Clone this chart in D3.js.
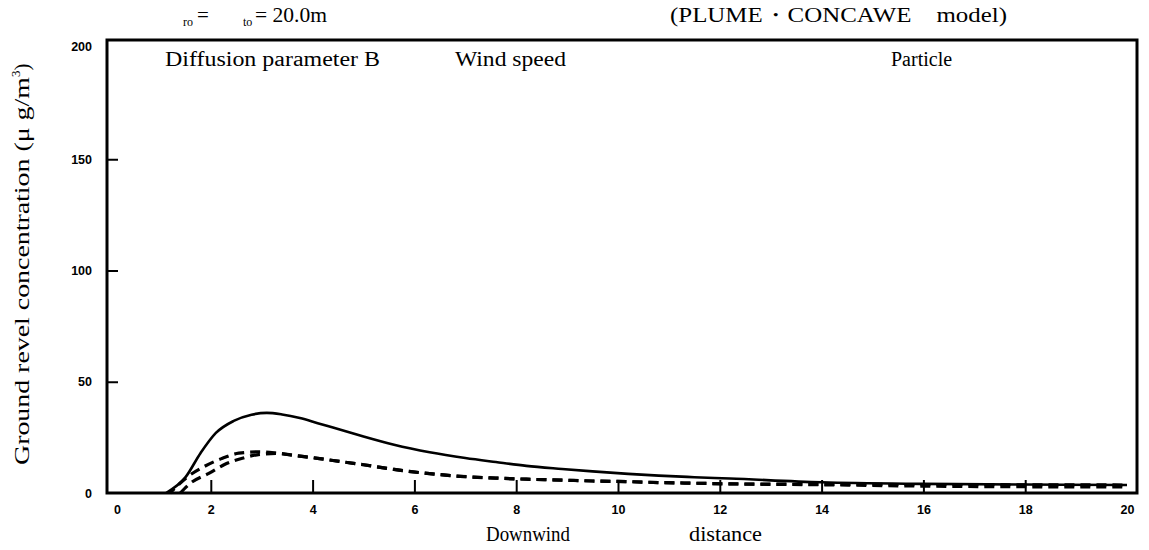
<!DOCTYPE html>
<html><head><meta charset="utf-8">
<script src="https://cdn.jsdelivr.net/npm/d3@7"></script>
<style>
html,body{margin:0;padding:0;background:#fff;}
svg{display:block;}
.serif{font-family:"Liberation Serif","Times New Roman",serif;fill:#000;}
.tick text{font-family:"Liberation Sans",Arial,sans-serif;font-weight:bold;font-size:12.5px;fill:#000;}
</style></head>
<body>
<svg id="chart" width="1149" height="550"></svg>
<script>
// ---- data ----
const xTicks = [0, 2, 4, 6, 8, 10, 12, 14, 16, 18, 20];
const yTicks = [0, 50, 100, 150, 200];

const solidX = [1.12, 1.5, 1.8, 2.1, 2.45, 2.8, 3.1, 3.4, 3.75, 4.1, 4.4, 4.7, 5.0, 5.6, 6.3, 7.0, 7.6, 8.2, 8.9, 9.5, 10.2, 10.8, 11.5, 12.2, 14, 16, 18, 20];
const solidY = [0, 7.0, 18.0, 27.0, 32.4, 35.2, 36.0, 35.3, 33.7, 31.4, 29.4, 27.4, 25.4, 21.7, 18.3, 15.7, 13.9, 12.2, 10.8, 9.7, 8.6, 7.8, 7.1, 6.5, 4.8, 4.1, 3.8, 3.6];

const dashAX = [1.2, 1.55, 1.87, 2.23, 2.55, 2.95, 3.3, 3.7, 4.1, 4.4, 5.0, 5.6, 6.3, 6.9, 7.6, 8.2, 8.9, 9.5, 10.2, 10.8, 11.5, 12.2, 14, 16, 18, 20];
const dashAY = [0, 7.4, 11.9, 15.6, 17.9, 18.5, 17.9, 16.7, 15.6, 14.6, 12.7, 10.6, 8.7, 7.5, 6.7, 6.2, 5.8, 5.4, 5.1, 4.7, 4.4, 4.1, 3.9, 3.8, 3.7, 3.6];

const dashBX = [1.4, 1.6, 1.97, 2.26, 2.62, 2.97, 3.3, 3.7, 4.1, 4.4, 5.0, 5.6, 6.3, 6.9, 7.6, 8.2, 8.9, 9.5, 10.2, 10.8, 11.5, 12.2, 14, 16, 18, 20];
const dashBY = [0, 4.4, 8.9, 12.7, 15.6, 17.4, 17.8, 16.7, 15.6, 14.6, 12.7, 10.6, 8.7, 7.5, 6.7, 6.2, 5.8, 5.4, 5.1, 4.7, 4.4, 4.1, 3.7, 3.1, 2.8, 2.7];

// ---- layout ----
const svg = d3.select("#chart");
const x = d3.scaleLinear().domain([0, 20]).range([109, 1127]);
const y = d3.scaleLinear().domain([0, 200]).range([493, 48]);

// frame (slightly larger than the data area, as in the original)
svg.append("rect")
  .attr("x", x(0) - 2).attr("y", y(200) - 8)
  .attr("width", x(20) - x(0) + 12).attr("height", y(0) - y(200) + 8)
  .attr("fill", "none").attr("stroke", "#000").attr("stroke-width", 3);

// axes
const xAxis = svg.append("g").attr("transform", `translate(0,${y(0)})`)
  .call(d3.axisBottom(x).tickValues(xTicks).tickSizeInner(-13).tickSizeOuter(0).tickPadding(12).tickFormat(d3.format("d")));
xAxis.select(".domain").remove();
xAxis.selectAll(".tick line").attr("stroke", "#000").attr("stroke-width", 2)
  .filter(d => d === 0 || d === 20).remove();
xAxis.selectAll(".tick text").filter(d => d === 0).attr("dx", 8);

const yAxis = svg.append("g").attr("transform", `translate(${x(0) - 2},0)`)
  .call(d3.axisLeft(y).tickValues(yTicks).tickSizeInner(-11).tickSizeOuter(0).tickPadding(15).tickFormat(d3.format("d")));
yAxis.select(".domain").remove();
yAxis.selectAll(".tick line").attr("stroke", "#000").attr("stroke-width", 2)
  .filter(d => d === 0 || d === 200).remove();
yAxis.selectAll(".tick text").filter(d => d === 200).attr("dy", "0.2em");

// lines
const line = d3.line().x(d => x(d[0])).y(d => y(d[1])).curve(d3.curveMonotoneX);
const zip = (a, b) => a.map((v, i) => [v, b[i]]);

svg.append("path").datum(zip(dashBX, dashBY)).attr("d", line)
  .attr("fill", "none").attr("stroke", "#000").attr("stroke-width", 3.2)
  .attr("stroke-dasharray", "10,6");
svg.append("path").datum(zip(dashAX, dashAY)).attr("d", line)
  .attr("fill", "none").attr("stroke", "#000").attr("stroke-width", 3.2)
  .attr("stroke-dasharray", "10,6").attr("stroke-dashoffset", 4);
svg.append("path").datum(zip(solidX, solidY)).attr("d", line)
  .attr("fill", "none").attr("stroke", "#000").attr("stroke-width", 2.6);

// title texts
const t1 = svg.append("text").attr("class", "serif").attr("y", 22).attr("font-size", 21);
t1.append("tspan").attr("x", 183).attr("font-size", 12).attr("dy", 4).text("ro");
t1.append("tspan").attr("x", 197).attr("dy", -4).text("=");
t1.append("tspan").attr("x", 243).attr("font-size", 12).attr("dy", 4).text("to");
t1.append("tspan").attr("x", 255).attr("dy", -4).attr("textLength", 72).attr("lengthAdjust", "spacingAndGlyphs").text("= 20.0m");

svg.append("text").attr("class", "serif").attr("x", 670).attr("y", 22).attr("font-size", 21)
  .attr("textLength", 337).attr("lengthAdjust", "spacingAndGlyphs")
  .text("(PLUME・CONCAWE\u3000model)");

// annotations
svg.append("text").attr("class", "serif").attr("x", 165).attr("y", 66).attr("font-size", 20)
  .attr("textLength", 215).attr("lengthAdjust", "spacingAndGlyphs").text("Diffusion parameter B");
svg.append("text").attr("class", "serif").attr("x", 455).attr("y", 66).attr("font-size", 20)
  .attr("textLength", 111).attr("lengthAdjust", "spacingAndGlyphs").text("Wind speed");
svg.append("text").attr("class", "serif").attr("x", 891).attr("y", 66).attr("font-size", 20)
  .text("Particle");

// axis titles
svg.append("text").attr("class", "serif").attr("x", 486).attr("y", 541).attr("font-size", 20)
  .attr("textLength", 84).attr("lengthAdjust", "spacingAndGlyphs").text("Downwind");
svg.append("text").attr("class", "serif").attr("x", 689).attr("y", 541).attr("font-size", 20)
  .attr("textLength", 73).attr("lengthAdjust", "spacingAndGlyphs").text("distance");

const yl = svg.append("text").attr("class", "serif").attr("font-size", 21)
  .attr("transform", "translate(29,465) rotate(-90)");
yl.append("tspan").attr("x", 0).attr("textLength", 388).attr("lengthAdjust", "spacingAndGlyphs").text("Ground revel concentration (μ g/m");
yl.append("tspan").attr("font-size", 13).attr("dy", -9).text("3");
yl.append("tspan").attr("dy", 9).text(")");
</script>
</body></html>
